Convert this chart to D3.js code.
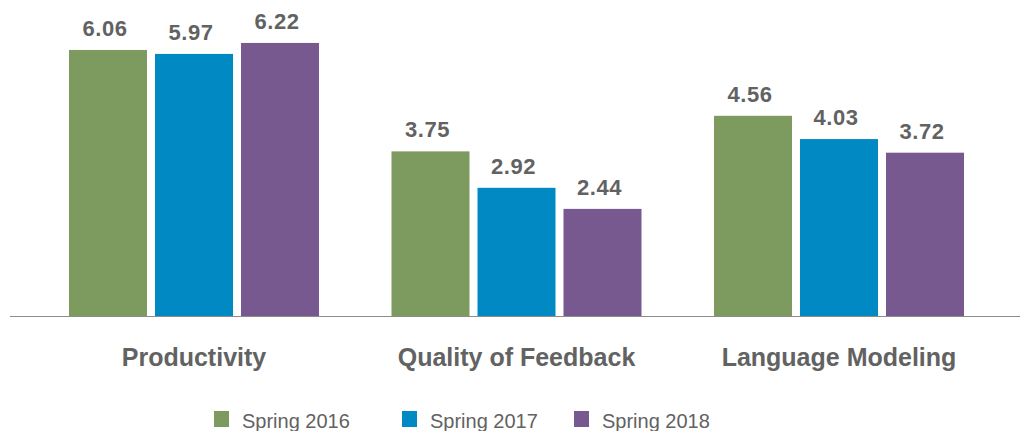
<!DOCTYPE html>
<html>
<head>
<meta charset="utf-8">
<script src="https://cdn.jsdelivr.net/npm/d3@7"></script>
<style>
html,body{margin:0;padding:0;background:#fff;}
svg{display:block;}
</style>
</head>
<body>
<svg id="chart" width="1020" height="431"></svg>
<script>
const categories = ["Productivity", "Quality of Feedback", "Language Modeling"];
const seriesNames = ["Spring 2016", "Spring 2017", "Spring 2018"];
const spring2016 = [6.06, 3.75, 4.56];
const spring2017 = [5.97, 2.92, 4.03];
const spring2018 = [6.22, 2.44, 3.72];
const seriesValues = [spring2016, spring2017, spring2018];
const colors = ["#7d9b5f", "#0089c2", "#77598f"];

const W = 1020, H = 431;
const baseY = 316;
const font = "'Helvetica Neue', 'Liberation Sans', Arial, sans-serif";
const textColor = "#626262";

const svg = d3.select("#chart");

const x0 = d3.scaleBand().domain(categories).range([69, 964]).paddingInner(0.2248).paddingOuter(0);
const x1 = d3.scaleBand().domain(seriesNames).range([0, x0.bandwidth()]).paddingInner(0.093).paddingOuter(0);
const y = d3.scaleLinear().domain([0, 7]).range([baseY, baseY - 7 * 43.9]);

const data = categories.map((c, i) => ({
  cat: c,
  vals: seriesNames.map((s, j) => ({ series: s, value: seriesValues[j][i], color: colors[j] }))
}));

const groups = svg.selectAll("g.grp").data(data).join("g")
  .attr("class", "grp")
  .attr("transform", d => `translate(${x0(d.cat)},0)`);

groups.selectAll("rect").data(d => d.vals).join("rect")
  .attr("x", d => x1(d.series))
  .attr("width", x1.bandwidth())
  .attr("y", d => y(d.value))
  .attr("height", d => y(0) - y(d.value))
  .attr("fill", d => d.color);

groups.selectAll("text.val").data(d => d.vals).join("text")
  .attr("class", "val")
  .attr("x", d => x1(d.series) + x1.bandwidth() / 2 - 3)
  .attr("y", d => y(d.value) - 14)
  .attr("text-anchor", "middle")
  .attr("font-family", font)
  .attr("font-weight", "bold")
  .attr("font-size", 22)
  .attr("letter-spacing", 0.6)
  .attr("fill", textColor)
  .text(d => d.value.toFixed(2));

// baseline axis
const xAxis = d3.axisBottom(x0).tickSize(0).tickFormat("");
const ax = svg.append("g").attr("transform", `translate(0,${baseY})`).call(xAxis);
ax.select(".domain").remove();
svg.append("line")
  .attr("x1", 10).attr("x2", W)
  .attr("y1", baseY + 0.5).attr("y2", baseY + 0.5)
  .attr("stroke", "#8c8c8c").attr("stroke-width", 1);

// category labels
svg.selectAll("text.cat").data(categories).join("text")
  .attr("class", "cat")
  .attr("x", d => x0(d) + x0.bandwidth() / 2)
  .attr("y", 366)
  .attr("text-anchor", "middle")
  .attr("font-family", font)
  .attr("font-weight", "bold")
  .attr("font-size", 25)
  .attr("fill", textColor)
  .text(d => d);

// legend
const legendX = [214, 402, 574];
const leg = svg.selectAll("g.leg").data(seriesNames).join("g")
  .attr("class", "leg")
  .attr("transform", (d, i) => `translate(${legendX[i]},411)`);
leg.append("rect").attr("width", 15).attr("height", 16).attr("fill", (d, i) => colors[i]);
leg.append("text")
  .attr("x", 28).attr("y", 16.5)
  .attr("font-family", font)
  .attr("font-size", 20)
  .attr("fill", textColor)
  .text(d => d);
</script>
</body>
</html>
